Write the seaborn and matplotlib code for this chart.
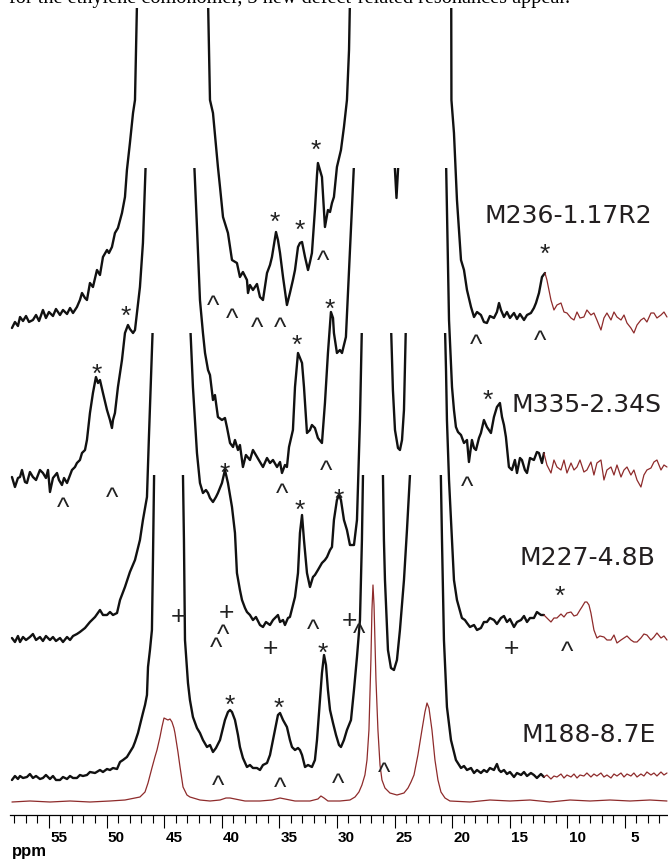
import numpy as np
import pandas as pd
import matplotlib
matplotlib.use("Agg")
import matplotlib.pyplot as plt
import seaborn as sns
from matplotlib.patches import Rectangle
from matplotlib.transforms import offset_copy, ScaledTranslation
from matplotlib.ticker import FixedLocator

# ---------------- data (ppm, intensity above each trace's own baseline) ----------------
title_text = "for the ethylene comonomer, 3 new defect-related resonances appear."
sample_names = ["M236-1.17R2", "M335-2.34S", "M227-4.8B", "M188-8.7E"]
tick_values = [55, 50, 45, 40, 35, 30, 25, 20, 15, 10, 5]

m236_ppm = [58.21,57.95,57.69,57.51,57.25,56.99,56.73,56.39,56.12,55.86,55.52,55.26,55.0,54.65,54.39,54.04,53.78,53.43,53.17,52.91,
            52.57,52.31,52.13,51.87,51.70,51.44,51.18,50.83,50.57,50.31,49.96,49.79,49.53,49.27,49.01,48.66,48.40,48.23,47.97,47.70,
            47.53,47.33,46.0,44.3,42.5,41.21,41.02,40.76,40.33,40.15,39.89,39.46,39.11,38.68,38.42,38.16,37.81,37.72,37.55,37.29,
            36.94,36.68,36.42,36.07,35.81,35.64,35.29,35.12,34.94,34.68,34.34,34.08,33.82,33.64,33.38,33.21,33.03,32.77,32.51,32.34,
            32.17,31.91,31.73,31.65,31.47,31.30,31.04,30.86,30.78,30.60,30.43,30.26,30.00,29.65,29.39,29.13,28.95,28.85,27.0,25.0,
            23.0,21.5,20.08,20.06,19.84,19.58,19.23,18.97,18.71,18.36,18.10,17.84,17.50,17.24,16.98,16.72,16.37,16.11,15.93,15.76,
            15.50,15.24,14.98,14.63,14.37,14.11,13.76,13.50,13.16,12.90,12.72,12.46,12.20,11.94,11.77,11.42,11.16,10.90,10.55,10.29,
            10.03,9.68,9.42,9.16,8.90,8.56,8.30,7.95,7.69,7.43,7.08,6.82,6.56,6.21,5.95,5.69,5.34,5.08,4.82,4.48,
            4.22,3.95,3.61,3.35,3.09,2.74,2.48,2.22,1.87,1.61,1.35]
m236_int = [-10,-4,-8,1,-3,2,-4,-2,3,-3,8,0,6,2,9,3,8,4,10,5,
            11,18,25,20,18,35,31,48,43,61,68,65,71,85,90,105,121,148,175,205,
            218,330,500,600,500,330,218,205,151,131,101,85,58,55,41,46,38,25,33,28,
            34,21,18,45,53,61,86,78,65,41,13,25,38,48,71,75,76,61,48,56,
            65,108,143,155,148,141,91,103,108,106,115,121,151,168,191,218,268,330,600,450,
            600,500,330,218,185,118,58,48,28,11,1,6,3,-4,-5,2,0,6,15,8,
            1,6,0,5,-1,4,-2,3,5,10,15,25,41,45,38,18,8,13,15,6,
            5,0,-2,6,0,1,8,3,5,-2,-12,0,5,-2,6,1,-2,3,-5,-10,
            -15,-7,-2,0,-4,5,5,0,3,6,1]

m335_ppm = [58.21,57.95,57.69,57.51,57.34,57.08,56.91,56.65,56.39,56.12,55.78,55.52,55.26,55.08,54.91,54.65,54.30,54.13,53.87,53.69,
            53.43,53.17,53.00,52.74,52.57,52.31,52.13,51.87,51.70,51.44,51.18,50.92,50.74,50.57,50.31,49.96,49.70,49.53,49.44,49.27,
            49.01,48.66,48.40,48.14,47.97,47.70,47.53,47.36,47.10,46.84,46.55,45.0,43.5,42.45,42.15,41.89,41.63,41.45,41.19,41.02,
            40.76,40.59,40.33,39.98,39.72,39.55,39.28,39.02,38.85,38.59,38.42,38.16,37.90,37.55,37.29,36.94,36.68,36.42,36.07,35.81,
            35.55,35.20,34.94,34.77,34.51,34.34,34.16,33.82,33.64,33.38,33.21,33.03,32.86,32.60,32.34,32.17,31.91,31.65,31.30,31.04,
            30.78,30.52,30.34,30.26,30.00,29.74,29.56,29.39,29.22,28.87,28.45,27.0,25.07,24.83,24.59,23.0,20.55,20.27,20.01,19.84,
            19.67,19.49,19.23,18.97,18.71,18.54,18.28,18.10,17.93,17.67,17.50,17.24,16.98,16.63,16.37,16.11,15.85,15.67,15.50,15.33,
            15.07,14.81,14.55,14.37,14.11,13.94,13.68,13.50,13.24,12.90,12.64,12.46,12.20,12.03,11.77,11.42,11.16,10.90,10.55,10.29,
            10.03,9.68,9.42,9.16,8.90,8.56,8.30,7.95,7.69,7.43,7.08,6.82,6.56,6.21,5.95,5.69,5.34,5.08,4.82,4.48,
            4.22,3.95,3.61,3.35,3.09,2.74,2.48,2.22,1.87,1.61,1.35]
m335_int = [0,-10,-1,0,7,-5,-6,5,0,-3,7,4,-1,7,-15,-1,4,-3,-8,-1,
            -6,2,7,10,14,17,24,27,37,64,84,100,94,97,84,67,57,49,57,64,
            90,117,144,152,148,144,147,164,190,234,330,600,500,330,250,177,144,124,107,102,
            77,82,60,57,59,50,34,30,37,27,32,10,22,17,27,20,15,10,19,14,
            17,10,15,4,12,10,30,47,90,124,119,114,90,44,47,52,49,39,34,74,
            124,165,159,144,124,127,124,132,140,227,330,600,330,279,330,600,330,157,90,67,
            50,45,42,34,37,15,37,29,27,39,44,57,50,44,60,70,74,60,52,40,
            10,7,17,4,19,17,7,4,19,17,25,24,14,24,12,4,17,10,7,17,
            4,14,7,10,17,5,7,15,2,14,17,-3,7,10,2,12,0,7,10,2,
            7,-3,-10,2,7,9,15,17,7,12,10]

m227_ppm = [58.21,57.95,57.69,57.51,57.25,56.99,56.65,56.39,56.12,55.78,55.52,55.26,54.91,54.65,54.39,54.04,53.78,53.43,53.17,52.91,
            52.57,52.31,51.87,51.44,51.00,50.57,50.31,49.96,49.70,49.44,49.09,48.83,48.40,47.97,47.53,47.10,46.84,46.49,46.32,46.06,
            45.93,44.5,42.80,42.50,42.15,41.89,41.63,41.37,41.19,41.02,40.76,40.50,40.33,39.98,39.72,39.46,39.11,38.85,38.68,38.42,
            38.24,37.98,37.81,37.55,37.29,37.03,36.68,36.42,36.16,35.81,35.55,35.38,35.12,34.94,34.68,34.51,34.25,34.08,33.82,33.64,
            33.38,33.21,33.03,32.86,32.60,32.34,32.08,31.91,31.65,31.30,31.04,30.86,30.60,30.43,30.26,30.00,29.82,29.65,29.56,29.39,
            29.13,28.87,28.52,28.26,28.00,27.80,27.0,25.35,25.14,24.96,24.70,24.53,24.35,24.18,23.98,22.5,20.66,20.53,20.45,20.27,
            20.10,19.84,19.58,19.41,19.15,18.89,18.71,18.45,18.10,17.84,17.50,17.24,16.98,16.72,16.37,16.11,15.76,15.50,15.24,14.98,
            14.63,14.37,14.02,13.76,13.50,13.24,12.90,12.64,12.29,12.03,11.77,11.42,11.16,10.90,10.55,10.29,10.03,9.68,9.42,9.16,
            8.90,8.73,8.47,8.30,8.12,7.95,7.69,7.43,7.17,6.82,6.56,6.21,5.95,5.69,5.34,5.08,4.82,4.48,4.22,3.95,
            3.61,3.35,3.09,2.74,2.48,2.22,1.87,1.61,1.35]
m227_int = [0,-4,2,-4,1,-2,1,4,-2,1,-3,2,-2,1,-3,0,-4,1,-2,2,
            4,6,10,16,21,28,23,23,26,23,25,38,51,66,78,98,118,141,201,285,
            330,600,330,251,185,155,145,148,145,140,136,141,145,155,168,155,131,105,65,48,
            38,30,26,23,18,21,13,11,16,13,18,20,23,16,18,13,20,21,33,41,
            65,105,123,98,65,51,61,63,68,75,78,81,88,91,118,138,143,138,131,118,
            108,93,93,118,218,330,600,330,248,208,190,188,198,228,330,600,330,268,218,158,
            118,58,38,31,20,18,15,11,13,8,10,16,16,20,18,14,20,22,16,19,
            11,16,18,22,16,20,20,26,23,23,20,16,20,20,24,21,25,26,22,23,
            28,31,36,36,33,25,8,0,2,1,-2,-2,3,-5,-2,0,2,-2,-4,-4,
            0,4,3,-2,1,5,0,2,-2]

m188_ppm = [58.21,57.95,57.69,57.51,57.25,56.91,56.65,56.39,56.12,55.78,55.52,55.26,54.91,54.65,54.39,54.04,53.78,53.43,53.17,52.91,
            52.57,52.31,52.05,51.70,51.44,51.00,50.57,50.31,49.96,49.70,49.44,49.09,48.83,48.57,48.23,47.97,47.70,47.53,47.27,47.10,
            46.84,46.66,46.49,46.40,46.23,46.06,45.97,45.84,44.5,43.40,43.28,43.19,42.93,42.76,42.50,42.15,41.89,41.63,41.28,41.02,
            40.76,40.50,40.15,39.89,39.72,39.46,39.28,39.11,38.85,38.59,38.42,38.16,37.81,37.55,37.29,36.94,36.68,36.42,36.07,35.81,
            35.55,35.29,35.12,34.94,34.68,34.34,34.08,33.90,33.64,33.38,33.21,33.03,32.77,32.51,32.17,31.91,31.73,31.47,31.30,31.12,
            30.95,30.78,30.60,30.34,30.08,29.82,29.65,29.39,29.13,28.78,28.52,28.26,28.00,27.83,27.70,26.8,26.04,25.92,25.83,25.57,
            25.31,25.05,24.79,24.53,24.18,23.92,23.66,23.62,22.0,21.02,20.88,20.71,20.45,20.10,19.67,19.23,18.97,18.71,18.36,18.10,
            17.84,17.50,17.24,16.98,16.72,16.37,16.11,15.93,15.76,15.50,15.24,14.98,14.63,14.37,14.02,13.76,13.50,13.16,12.90,12.64,
            12.29,12.03,11.77,11.42,11.16,10.90,10.55,10.29,10.03,9.68,9.42,9.16,8.90,8.56,8.30,7.95,7.69,7.43,7.08,6.82,
            6.56,6.21,5.95,5.69,5.34,5.08,4.82,4.48,4.22,3.95,3.61,3.35,3.09,2.74,2.48,2.22,1.87,1.61,1.35]
m188_int = [-2,2,-1,2,0,1,4,0,2,-1,0,3,-1,2,-2,-2,1,-1,2,0,
            0,3,2,3,6,5,8,6,9,8,10,9,16,18,21,26,31,36,45,53,
            65,73,83,111,128,148,218,330,600,330,238,138,95,78,61,50,45,38,31,33,
            26,30,38,50,58,66,68,66,58,43,31,20,11,13,10,10,8,13,15,23,
            38,53,63,65,58,51,38,31,28,30,28,23,11,13,11,18,38,78,105,123,
            113,88,68,55,43,33,31,38,48,58,88,121,158,238,330,600,330,238,198,128,
            110,108,118,148,198,248,303,330,600,330,238,138,71,38,18,10,12,8,10,5,
            8,5,8,6,10,8,14,8,6,8,4,6,1,5,3,6,2,5,3,0,
            4,1,3,-1,2,1,4,0,3,1,4,0,3,2,5,1,4,2,5,1,
            3,0,4,2,5,1,4,2,5,1,4,2,6,3,5,2,6,3,5]

ref_ppm = [58.21,56.65,54.91,53.17,51.44,49.70,48.40,47.53,47.10,46.66,46.40,46.06,45.80,45.62,45.36,45.19,45.01,44.84,44.67,44.49,
           44.32,44.15,44.06,43.80,43.62,43.36,43.02,42.76,41.89,41.02,40.15,39.63,39.28,38.85,37.98,36.68,35.64,34.94,34.51,33.64,
           32.34,31.65,31.39,31.12,30.78,29.74,28.87,28.43,28.09,27.83,27.57,27.39,27.22,27.05,26.96,26.87,26.78,26.61,26.44,26.26,
           26.09,25.83,25.40,24.79,24.18,23.83,23.57,23.31,22.97,22.62,22.36,22.18,22.01,21.75,21.49,21.23,20.97,20.62,20.19,18.45,
           16.72,14.98,13.24,11.51,9.77,8.03,6.30,4.56,2.83,1.35]
ref_int = [0,1,0,1,0,1,2,4,5,10,19,34,45,52,65,75,84,83,82,83,
           80,74,69,50,35,15,7,5,2,1,2,4,4,3,1,1,2,4,3,1,
           1,3,6,4,1,1,2,5,10,17,27,42,72,142,192,217,197,122,72,37,
           22,14,9,7,9,14,20,27,47,72,90,99,94,72,42,22,10,4,1,0,
           2,1,2,0,2,1,2,1,2,1]

# markers: (ppm, height above axis, symbol)
marks = [
    (31.82, 672, "*"), (35.38, 600, "*"), (33.21, 592, "*"), (48.31, 506, "*"), (11.94, 568, "*"),
    (31.21, 560, "^"), (40.76, 515, "^"), (39.11, 502, "^"), (36.94, 493, "^"), (34.94, 493, "^"),
    (17.93, 476, "^"), (12.38, 480, "^"),
    (50.83, 448, "*"), (33.47, 477, "*"), (30.60, 513, "*"), (16.89, 422, "*"),
    (53.78, 313, "^"), (49.53, 323, "^"), (34.77, 327, "^"), (30.95, 350, "^"), (18.71, 334, "^"),
    (39.72, 349, "*"), (33.21, 312, "*"), (29.82, 323, "*"), (10.64, 226, "*"),
    (43.80, 200, "+"), (39.63, 204, "+"), (35.73, 169, "+"), (28.95, 196, "+"), (14.81, 169, "+"),
    (39.89, 186, "^"), (40.50, 173, "^"), (32.08, 191, "^"), (28.09, 187, "^"), (10.03, 169, "^"),
    (39.28, 117, "*"), (35.03, 114, "*"), (31.21, 169, "*"),
    (40.33, 35, "^"), (34.94, 33, "^"), (29.91, 37, "^"), (25.92, 48, "^"),
]

# ---------------- layout / style ----------------
W, H = 668, 863
sns.set_theme(style="white")
plt.rcParams["font.family"] = ["DejaVu Sans"]

fig = plt.figure(figsize=(W / 100, H / 100), dpi=100)
fig.patch.set_facecolor("white")
ax = fig.add_axes([10 / W, 48 / H, 658 / W, 815 / H])
ax.set_facecolor("white")

BLACK = "#111111"
RED = "#8e2b2b"
offsets = [497, 338, 177, 37]
ceilings = [309.5, 309, 305, 303]
splits = [11.94, 12.03, 12.03, 12.03]
series = [(m236_ppm, m236_int), (m335_ppm, m335_int), (m227_ppm, m227_int), (m188_ppm, m188_int)]


def draw(ppm, y, color, lw, clip=None):
    df = pd.DataFrame({"ppm": ppm, "y": y})
    n0 = len(ax.lines)
    sns.lineplot(data=df, x="ppm", y="y", sort=False, estimator=None, color=color,
                 lw=lw, ax=ax, legend=False)
    for ln in ax.lines[n0:]:
        ln.set_solid_joinstyle("round")
        if clip is not None:
            ln.set_clip_path(clip)


# reference trace
draw(np.array(ref_ppm), np.array(ref_int) + 13, RED, 0.9)

for (ppm, inten), off, ceil, sp in zip(series, offsets, ceilings, splits):
    ppm = np.array(ppm, dtype=float)
    y = np.array(inten, dtype=float) + off
    b = ppm >= sp
    r = ppm <= sp
    draw(ppm[b], y[b], BLACK, 1.7, Rectangle((0, -50), 70, off + ceil + 50, transform=ax.transData))
    draw(ppm[r], y[r], RED, 0.9, Rectangle((0, -50), 70, off + ceil + 50, transform=ax.transData))

ax.set_xlim(58.38, 1.26)
ax.set_ylim(0, 815)
ax.set_xlabel("")
ax.set_ylabel("")

# markers
ann_fs = 19
centre = {"*": 0.575, "^": 0.527, "+": 0.36}
for p, h, s in marks:
    tr = offset_copy(ax.transData, fig=fig, x=0, y=-centre[s] * ann_fs, units="points")
    ax.text(p, h, s, transform=tr, ha="center", va="baseline", fontsize=ann_fs,
            family=["Liberation Sans", "DejaVu Sans"], color="#222222")

# sample labels (left edge ppm, baseline height)
label_pos = [(17.2, 592), (14.81, 403), (14.11, 250), (13.94, 73)]
for name, (p, h) in zip(sample_names, label_pos):
    ax.text(p, h, name, ha="left", va="baseline", fontsize=18, family="DejaVu Sans", color="#231f20")

# axis
for sp in ["left", "right", "top"]:
    ax.spines[sp].set_visible(False)
ax.spines["bottom"].set_color("black")
ax.spines["bottom"].set_linewidth(0.9)
ax.set_yticks([])
ax.set_xticks(tick_values, [str(v) for v in tick_values])
ax.xaxis.set_minor_locator(FixedLocator(list(range(2, 59))))
ax.tick_params(axis="x", which="major", length=9.4, width=0.8, direction="out", pad=2,
               labelsize=11, colors="black", bottom=True)
ax.tick_params(axis="x", which="minor", length=5.8, width=0.8, direction="out", colors="black", bottom=True)
shift = ScaledTranslation(7 / 72, 0, fig.dpi_scale_trans)
for lab in ax.get_xticklabels():
    lab.set_fontweight("bold")
    lab.set_family("Liberation Sans")
    lab.set_transform(lab.get_transform() + shift)

fig.text(12 / W, 1 - 856 / H, "ppm", fontweight="bold", family="Liberation Sans", fontsize=12,
         va="baseline", ha="left", color="black")
fig.text(9 / W, 1 - 3 / H, title_text, family="Liberation Serif", fontsize=14.6,
         va="baseline", ha="left", color="black")

fig.savefig("out.png", dpi=100, facecolor="white")
